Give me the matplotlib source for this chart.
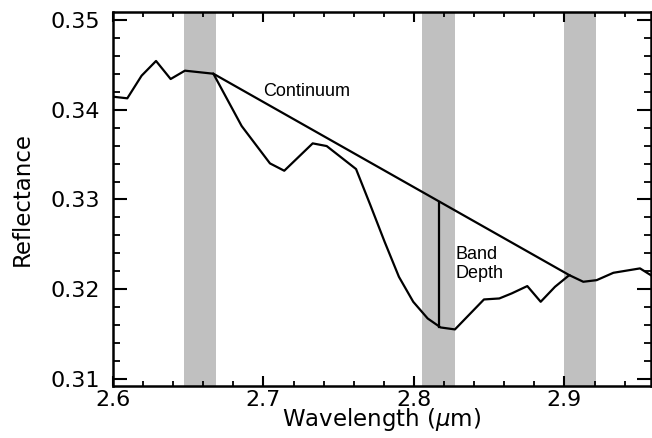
import matplotlib
matplotlib.use("Agg")
import matplotlib.pyplot as plt
from matplotlib.ticker import MultipleLocator

# Spectrum (wavelength in micron, reflectance)
wavelength = [2.600, 2.6095, 2.619, 2.6286, 2.6383, 2.6478, 2.6667, 2.6855,
              2.7043, 2.7138, 2.7327, 2.742, 2.7615, 2.771, 2.7805, 2.790,
              2.7995, 2.8091, 2.8177, 2.8272, 2.8465, 2.8567, 2.8649, 2.8753,
              2.8842, 2.8937, 2.9032, 2.9125, 2.9214, 2.9325, 2.9502, 2.958]
reflectance = [0.34145, 0.34127, 0.34379, 0.34543, 0.34342, 0.34435, 0.34401, 0.33818,
               0.33402, 0.33320, 0.33625, 0.33595, 0.33339, 0.32938, 0.32528, 0.32138,
               0.31860, 0.31674, 0.31574, 0.31552, 0.31886, 0.31897, 0.31953, 0.32035,
               0.31860, 0.32027, 0.32157, 0.32083, 0.32101, 0.32183, 0.32232, 0.32150]

# Continuum endpoints
continuum_x = [2.6667, 2.9032]
continuum_y = [0.34401, 0.32157]

# Band-depth marker
band_x = 2.8168
band_bottom = 0.31580

# Shaded wavelength windows
windows = [(2.6474, 2.6687), (2.8055, 2.8270), (2.8996, 2.9210)]

xticks = [2.6, 2.7, 2.8, 2.9]
yticks = [0.31, 0.32, 0.33, 0.34, 0.35]

fig = plt.figure(figsize=(6.52, 4.38), dpi=100)
ax = fig.add_axes([113/652, 1-385.7/438, (651-113)/652, (385.7-11.7)/438])

for lo, hi in windows:
    ax.axvspan(lo, hi, color="#c0c0c0", lw=0, zorder=0)

ax.plot(wavelength, reflectance, color="black", lw=1.6, zorder=3)
ax.plot(continuum_x, continuum_y, color="black", lw=1.6, zorder=3)
slope = (continuum_y[1]-continuum_y[0])/(continuum_x[1]-continuum_x[0])
band_top = continuum_y[0] + slope*(band_x-continuum_x[0])
ax.plot([band_x, band_x], [band_bottom, band_top], color="black", lw=1.6, zorder=3)

ax.text(2.6995, 0.3420, "Continuum", fontsize=13, family="Liberation Sans",
        va="center", ha="left")
ax.text(2.8277, 0.3228, "Band\nDepth", fontsize=13, family="Liberation Sans",
        va="center", ha="left", linespacing=1.15)

ax.set_xlim(2.6, 2.9575)
ax.set_ylim(0.30925, 0.35092)
ax.set_xticks(xticks)
ax.set_xticklabels([f"{v:.1f}" for v in xticks])
ax.set_yticks(yticks)
ax.set_yticklabels([f"{v:.2f}" for v in yticks])
ax.xaxis.set_minor_locator(MultipleLocator(0.02))
ax.yaxis.set_minor_locator(MultipleLocator(0.002))

for s in ax.spines.values():
    s.set_linewidth(1.8)

ax.tick_params(axis="x", which="major", direction="in", length=7, width=1.5,
               top=True, labelsize=16, pad=3)
ax.tick_params(axis="x", which="minor", direction="in", length=3.5, width=1.3, top=True)
ax.tick_params(axis="y", which="major", direction="in", length=10, width=1.5,
               right=True, labelsize=16, pad=9)
ax.tick_params(axis="y", which="minor", direction="in", length=5, width=1.3, right=True)

ax.set_xlabel(r"Wavelength ($\mu$m)", fontsize=16.5, labelpad=-3)
ax.set_ylabel("Reflectance", fontsize=16.5, labelpad=12)

fig.savefig("out.png", dpi=100)
